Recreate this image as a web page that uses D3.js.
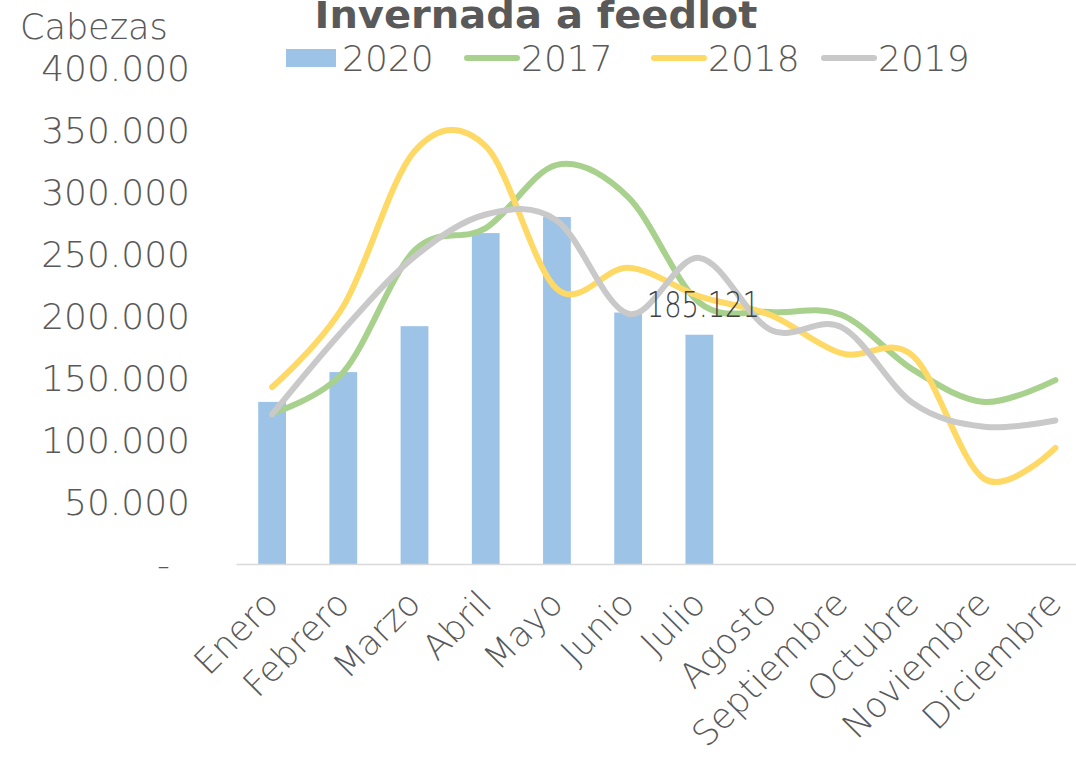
<!DOCTYPE html>
<html>
<head>
<meta charset="utf-8">
<script src="https://cdn.jsdelivr.net/npm/d3@7"></script>
<style>
  body { margin: 0; background: #fff; }
  svg text { font-family: "DejaVu Sans", sans-serif; font-weight: 200; fill: #595959; }
</style>
</head>
<body>
<script>
'use strict';

const months = ['Enero', 'Febrero', 'Marzo', 'Abril', 'Mayo', 'Junio', 'Julio',
  'Agosto', 'Septiembre', 'Octubre', 'Noviembre', 'Diciembre'];

// 2020 (bars, only Jan-Jul)
const values2020 = [131000, 155000, 192000, 267000, 280000, 203000, 185121];
// smoothed lines
const values2017 = [122000, 155000, 253000, 271000, 322000, 296000, 211000, 203500, 201000, 157000, 131000, 148500];
const values2018 = [143000, 208000, 333000, 337000, 222000, 239000, 216000, 201000, 170000, 168000, 69000, 94000];
const values2019 = [121000, 189000, 248000, 282000, 277000, 202000, 247000, 189000, 191000, 130000, 111000, 116000];

const yTicks = [0, 50000, 100000, 150000, 200000, 250000, 300000, 350000, 400000];

const fmt = d => d === 0 ? '-' : d3.format(',')(d).replace(/,/g, '.');

const width = 1076, height = 757;

const svg = d3.select('body').append('svg')
  .attr('width', width)
  .attr('height', height);

svg.append('rect').attr('width', width).attr('height', height).attr('fill', '#fff');

let x = d3.scaleBand()
  .domain(months)
  .range([236.5, 1091]);

let y = d3.scaleLinear()
  .domain([0, 400000])
  .range([564.5, 68]);

let cx = m => x(m) + x.bandwidth() / 2;

// y tick labels
svg.selectAll('.ytick')
  .data(yTicks)
  .enter()
  .append('text')
    .attr('class', 'ytick')
    .attr('x', d => d === 0 ? 170 : 190)
    .attr('y', d => y(d))
    .attr('dy', '0.35em')
    .attr('text-anchor', 'end')
    .style('font-size', '36px')
    .text(fmt);

// bars
let barW = x.bandwidth() * 0.39;
svg.selectAll('.bar')
  .data(values2020)
  .enter()
  .append('rect')
    .attr('class', 'bar')
    .attr('x', (d, i) => cx(months[i]) - barW / 2)
    .attr('y', d => y(d))
    .attr('width', barW)
    .attr('height', d => y(0) - y(d))
    .attr('fill', '#9DC3E6');

// axis line
svg.append('line')
  .attr('x1', x.range()[0]).attr('x2', x.range()[1])
  .attr('y1', y(0)).attr('y2', y(0))
  .attr('stroke', '#D9D9D9')
  .attr('stroke-width', 1.5);

// lines
let series = [
  { name: '2017', values: values2017, color: '#A9D18E' },
  { name: '2018', values: values2018, color: '#FFD966' },
  { name: '2019', values: values2019, color: '#C9C9C9' }
];

let line = d3.line()
  .x((d, i) => cx(months[i]))
  .y(d => y(d))
  .curve(d3.curveCardinal.tension(0));

series.forEach(s => {
  svg.append('path')
    .datum(s.values)
    .attr('d', line)
    .attr('fill', 'none')
    .attr('stroke', s.color)
    .attr('stroke-width', 6)
    .attr('stroke-linecap', 'round')
    .attr('stroke-linejoin', 'round');
});

// data label on last bar
let last = values2020.length - 1;
svg.append('text')
  .attr('x', cx(months[last]) + 4)
  .attr('y', y(values2020[last]) - 18)
  .attr('text-anchor', 'middle')
  .attr('textLength', 113)
  .attr('lengthAdjust', 'spacingAndGlyphs')
  .style('font-size', '36px')
  .style('fill', '#404040')
  .text(fmt(values2020[last]));

// x labels
svg.selectAll('.xlabel')
  .data(months)
  .enter()
  .append('text')
    .attr('class', 'xlabel')
    .attr('text-anchor', 'end')
    .attr('transform', d => 'translate(' + (cx(d) + 8) + ',' + (y(0) + 41) + ')rotate(-45)')
    .style('font-size', '35px')
    .text(d => d);

// title + axis title
svg.append('text')
  .attr('x', 536)
  .attr('y', 28)
  .attr('text-anchor', 'middle')
  .attr('textLength', 443)
  .attr('lengthAdjust', 'spacingAndGlyphs')
  .style('font-size', '38px')
  .style('font-weight', 'bold')
  .text('Invernada a feedlot');

svg.append('text')
  .attr('x', 20)
  .attr('y', 39)
  .style('font-size', '35px')
  .text('Cabezas');

// legend
let legend = [
  { name: '2020', type: 'bar', color: '#9DC3E6', x: 286 },
  { name: '2017', type: 'line', color: '#A9D18E', x: 465 },
  { name: '2018', type: 'line', color: '#FFD966', x: 652 },
  { name: '2019', type: 'line', color: '#C9C9C9', x: 822 }
];

legend.forEach(l => {
  if (l.type === 'bar') {
    svg.append('rect')
      .attr('x', l.x).attr('y', 49)
      .attr('width', 50).attr('height', 18)
      .attr('fill', l.color);
  } else {
    svg.append('line')
      .attr('x1', l.x + 2).attr('x2', l.x + 52)
      .attr('y1', 58).attr('y2', 58)
      .attr('stroke', l.color)
      .attr('stroke-width', 6)
      .attr('stroke-linecap', 'round');
  }
  svg.append('text')
    .attr('x', l.x + 56)
    .attr('y', 71)
    .style('font-size', '36px')
    .text(l.name);
});
</script>
</body>
</html>
